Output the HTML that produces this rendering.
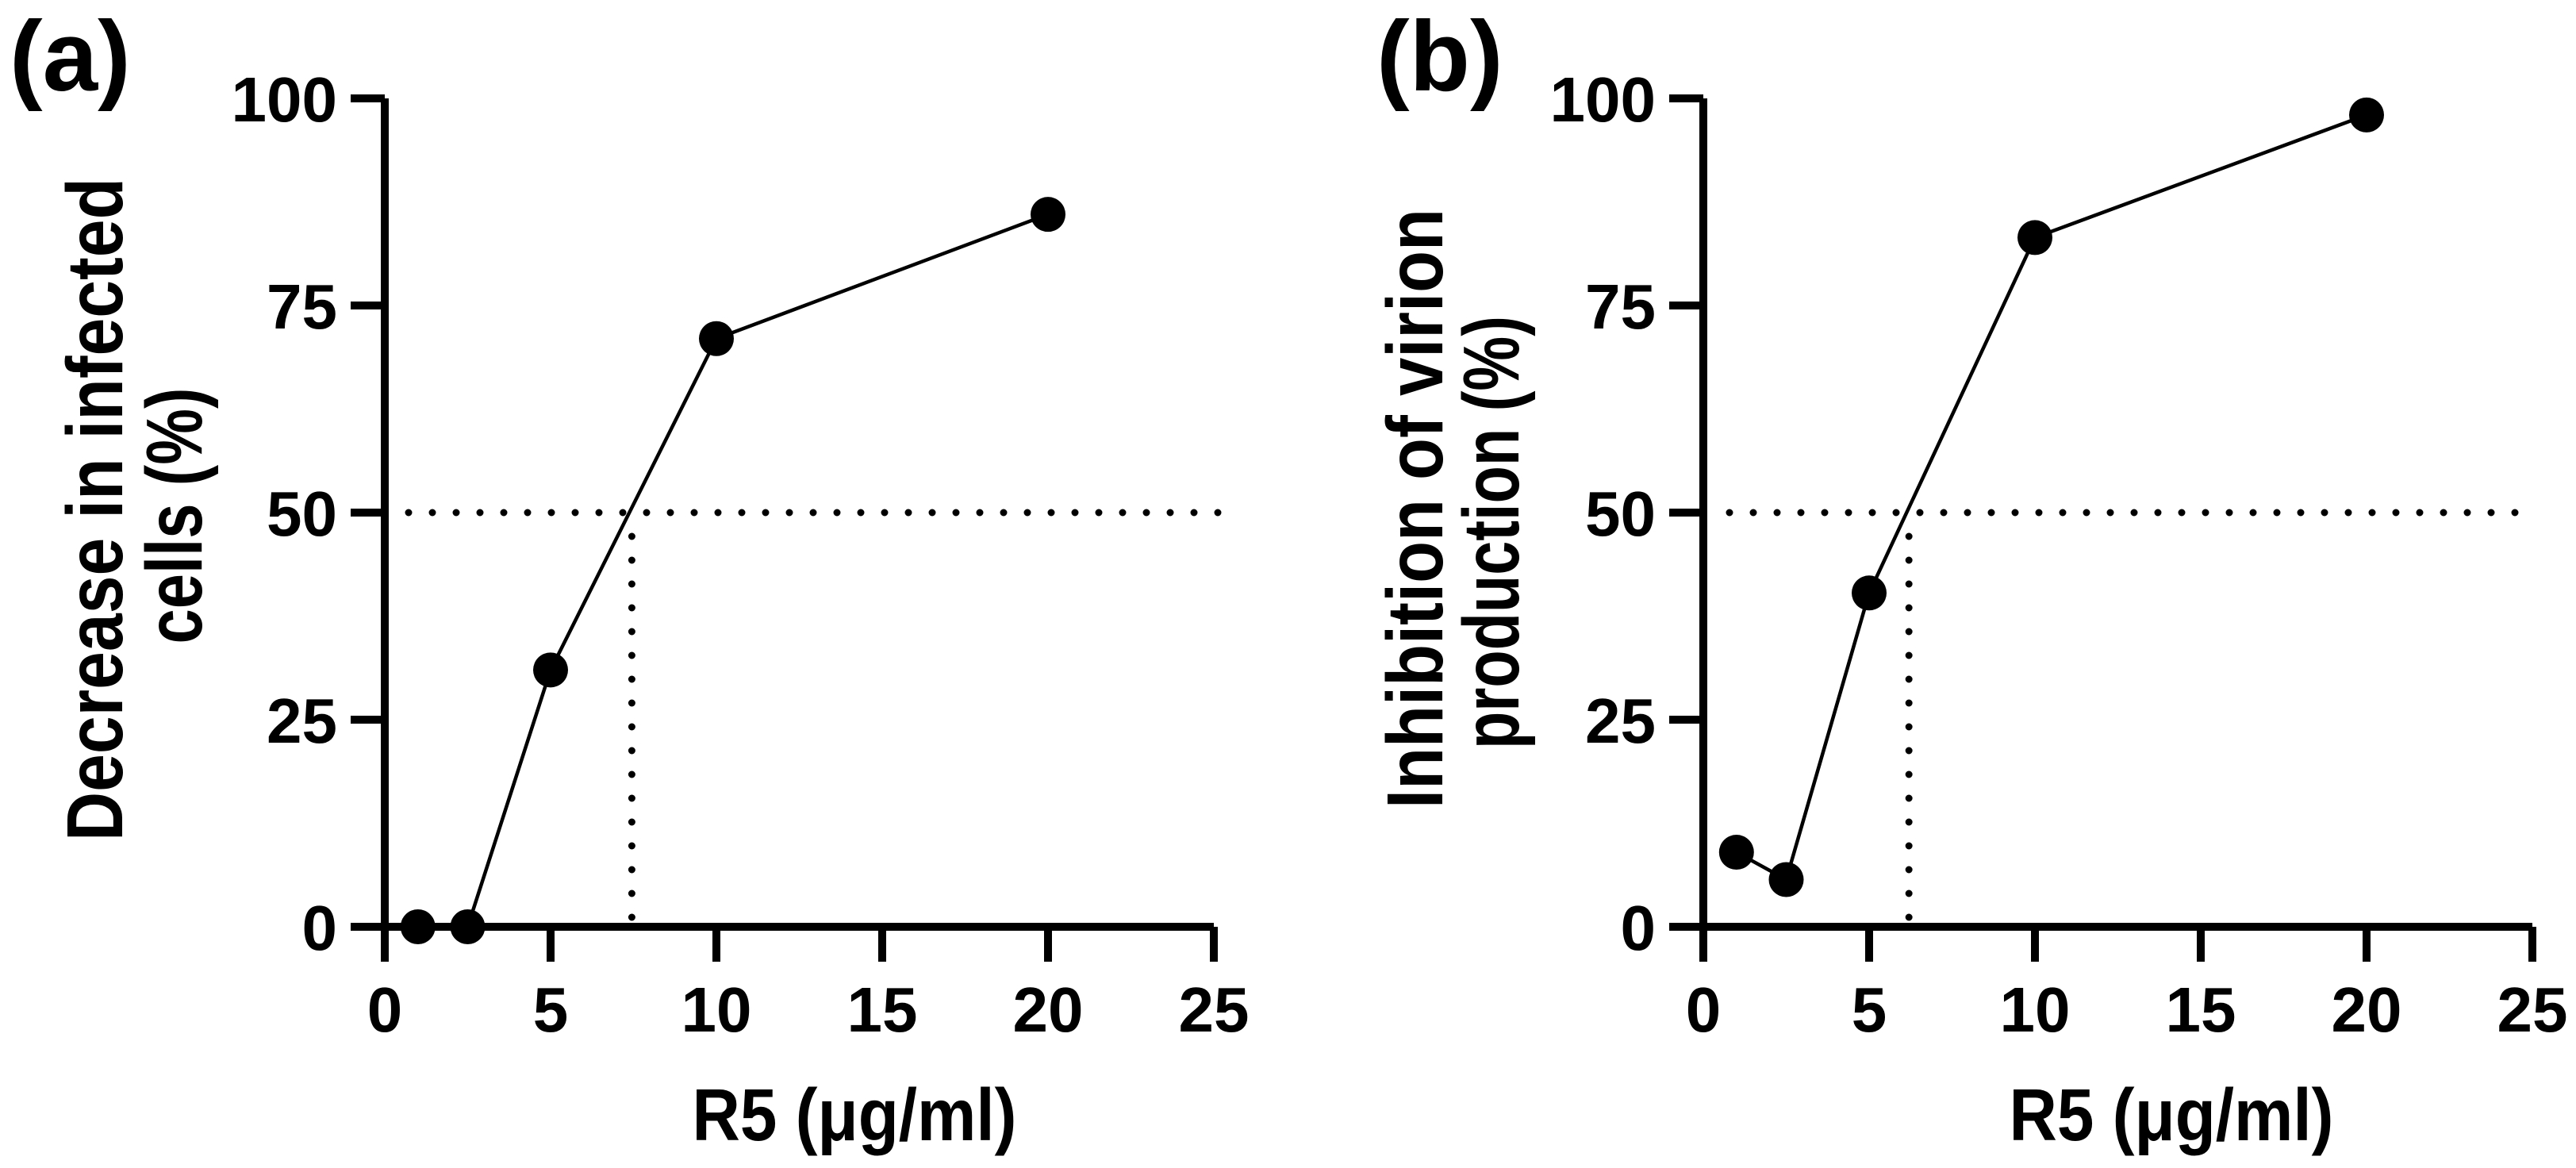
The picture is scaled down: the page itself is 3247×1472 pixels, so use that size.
<!DOCTYPE html>
<html><head><meta charset="utf-8"><style>
html,body{margin:0;padding:0;background:#fff;}
svg{display:block;font-family:"Liberation Sans",Arial,sans-serif;font-weight:bold;}
</style></head><body>
<svg id="fig" width="3247" height="1472" viewBox="0 0 3247 1472" xmlns="http://www.w3.org/2000/svg"></svg>
<script>
const xTicks = [0, 5, 10, 15, 20, 25];
const yTicks = [0, 25, 50, 75, 100];
const xA = [1, 2.5, 5, 10, 20];
const yA = [0, 0, 31, 71, 86];
const ic50A = 7.45;
const xB = [1, 2.5, 5, 10, 20];
const yB = [9, 5.7, 40.3, 83.2, 98];
const ic50B = 6.2;
const refLevel = 50;

const NS = 'http://www.w3.org/2000/svg';
const svg = document.getElementById('fig');
function mk(tag, attrs, parent, text) {
  const e = document.createElementNS(NS, tag);
  for (const k in attrs) e.setAttribute(k, attrs[k]);
  if (text !== undefined) e.textContent = text;
  (parent || svg).appendChild(e);
  return e;
}

function panel(cfg) {
  const g = mk('g', {});
  
  
  const x0 = cfg.ox, yTop = 124, yBot = 1168, pxPerX = 41.8;
  const sx = v => x0 + v * pxPerX;
  const sy = v => yBot - v / 100 * (yBot - yTop);

  const h = mk('line', {x1: cfg.hStart, y1: sy(refLevel), x2: cfg.hEnd, y2: sy(refLevel), stroke: '#000', 'stroke-width': 9, 'stroke-linecap': 'round', 'stroke-dasharray': '0 30'}, g);
  
  
  const v = mk('line', {x1: sx(cfg.ic50), y1: sy(refLevel) + 30, x2: sx(cfg.ic50), y2: yBot - 8, stroke: '#000', 'stroke-width': 9, 'stroke-linecap': 'round', 'stroke-dasharray': '0 30'}, g);
  
  

  const ya = mk('path', {d: `M${x0},${yTop} V${yBot + 44}`, stroke: '#000', 'stroke-width': 10, fill: 'none'}, g);
  
  
  const xa = mk('path', {d: `M${x0 - 43},${yBot} H${sx(25)}`, stroke: '#000', 'stroke-width': 10, fill: 'none'}, g);
  
  

  yTicks.forEach(t => {
    const y = sy(t);
    const tk = mk('line', {x1: x0 - 43, y1: y, x2: x0, y2: y, stroke: '#000', 'stroke-width': 10}, g);
    
    
    const lb = mk('text', {x: x0 - 60, y: y + 29, 'font-size': 80, 'text-anchor': 'end'}, g, String(t));
    
    
  });
  xTicks.forEach(t => {
    const x = sx(t);
    const tk = mk('line', {x1: x, y1: yBot, x2: x, y2: yBot + 44, stroke: '#000', 'stroke-width': 10}, g);
    
    
    const lb = mk('text', {x: x, y: 1300, 'font-size': 80, 'text-anchor': 'middle'}, g, String(t));
    
    
  });

  const d = cfg.xs.map((xv, i) => (i ? 'L' : 'M') + sx(xv) + ',' + sy(cfg.ys[i])).join(' ');
  const ln = mk('path', {d: d, stroke: '#000', 'stroke-width': 4.5, fill: 'none'}, g);
  
  
  cfg.xs.forEach((xv, i) => {
    const c = mk('circle', {cx: sx(xv), cy: sy(cfg.ys[i]), r: 22, fill: '#000'}, g);
    
    
  });

  const xt = mk('text', {x: cfg.xTitleCx, y: 1437, 'font-size': 93, 'text-anchor': 'middle', textLength: 409, lengthAdjust: 'spacingAndGlyphs'}, g, 'R5 (\u03bcg/ml)');
  
  
  cfg.yLines.forEach((ln2, i) => {
    const t = mk('text', {x: 0, y: 0, 'font-size': 100, 'text-anchor': 'middle', textLength: ln2.len, lengthAdjust: 'spacingAndGlyphs', transform: `translate(${ln2.bx},${ln2.cy}) rotate(-90)`}, g, ln2.text);
    
    
  });
  const pl = mk('text', {x: cfg.labelX, y: 114, 'font-size': 125}, g, cfg.label);
  
  
}

panel({name: 'panel-a', ox: 485, xs: xA, ys: yA, ic50: ic50A, hStart: 515, hEnd: 1540,
  xTitleCx: 1077, label: '(a)', labelX: 12,
  yLines: [{text: 'Decrease in infected', bx: 154, cy: 642, len: 836},
           {text: 'cells (%)', bx: 254, cy: 650, len: 323}]});
panel({name: 'panel-b', ox: 2147, xs: xB, ys: yB, ic50: ic50B, hStart: 2180, hEnd: 3190,
  xTitleCx: 2737, label: '(b)', labelX: 1735,
  yLines: [{text: 'Inhibition of virion', bx: 1818, cy: 641, len: 756},
           {text: 'production (%)', bx: 1914, cy: 671, len: 546}]});
</script>
</body></html>
